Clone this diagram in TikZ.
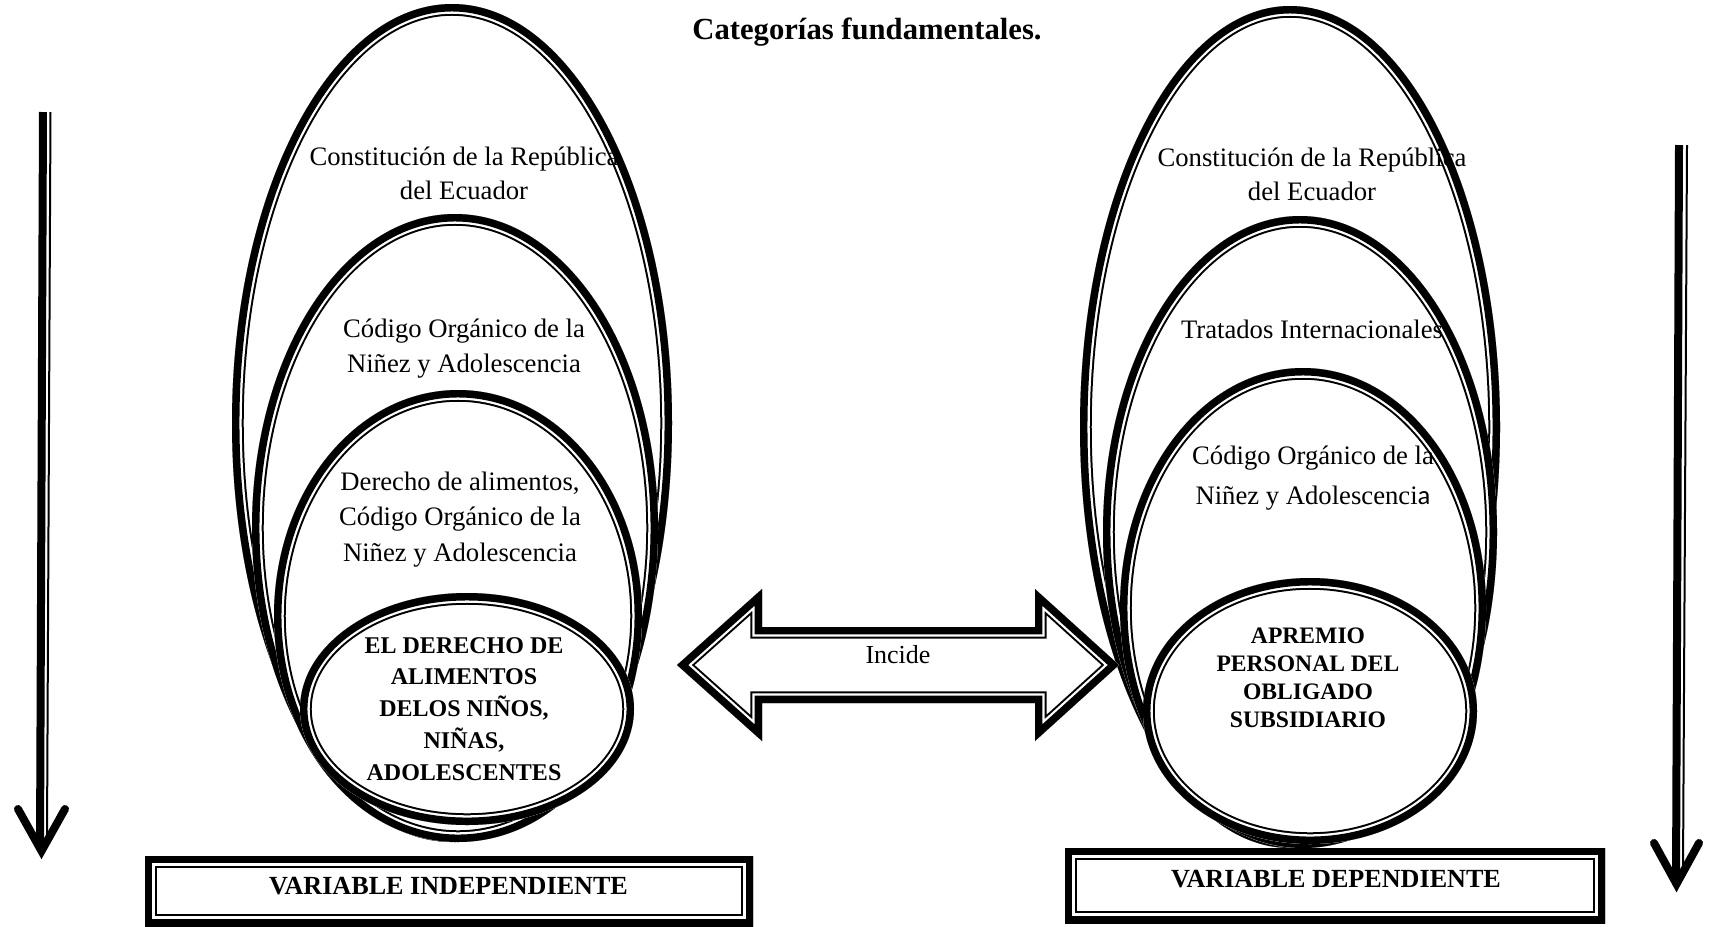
\documentclass[tikz,border=0pt]{standalone}
\usepackage{fontspec}
\setmainfont{Liberation Serif}
\newfontfamily\altfont{Carlito}
\newcommand{\ttshape}[1]{%
  \begin{scope}
    \clip #1;
    \fill[white] #1;
    \draw[thickpart] #1;
    \draw[gappart] #1;
    \draw[thinpart] #1;
  \end{scope}}
\tikzset{
  thickpart/.style={draw=black, line width=17.6pt, line join=miter},
  gappart/.style={draw=white, line width=14.6pt, line join=miter},
  thinpart/.style={draw=black, line width=11.2pt, line join=miter},
  sidebar/.style={line width=6pt},
  sidethin/.style={line width=1.5pt},
  sidehead/.style={line width=6pt, line cap=round, line join=miter},
  regtext/.style={align=center, anchor=base, inner sep=0pt},
  boldtext/.style={align=center, anchor=base, inner sep=0pt, font=\bfseries\fontsize{18}{23.8}\selectfont},
  boxtext/.style={anchor=base, inner sep=0pt, font=\bfseries\fontsize{19.6}{23}\selectfont},
}
\begin{document}
\begin{tikzpicture}[x=0.75pt, y=-0.75pt]
\useasboundingbox (0,0) rectangle (1710,926);

% left group of ellipses
\ttshape{(452,423) ellipse [x radius=220, y radius=419]}
\ttshape{(455,528) ellipse [x radius=203, y radius=314]}
\ttshape{(458,616) ellipse [x radius=184, y radius=226]}
\ttshape{(467,709) ellipse [x radius=167, y radius=116]}

% right group of ellipses
\ttshape{(1290,427) ellipse [x radius=210, y radius=421]}
\ttshape{(1300,532) ellipse [x radius=197, y radius=316]}
\ttshape{(1303,608) ellipse [x radius=183, y radius=240]}
\ttshape{(1310,711) ellipse [x radius=167, y radius=133]}

% double block arrow
\coordinate (aL)  at (677,665);
\coordinate (aL1) at (762,589);
\coordinate (aL2) at (762,627);
\coordinate (aR2) at (1035,627);
\coordinate (aR1) at (1035,589);
\coordinate (aR)  at (1119,665);
\coordinate (aR3) at (1035,741);
\coordinate (aR4) at (1035,703);
\coordinate (aL4) at (762,703);
\coordinate (aL3) at (762,741);
\ttshape{(aL) -- (aL1) -- (aL2) -- (aR2) -- (aR1) -- (aR) -- (aR3) -- (aR4) -- (aL4) -- (aL3) -- cycle}

% boxes
\ttshape{(145,856) rectangle (753,926)}
\ttshape{(1065,848) rectangle (1605,923)}

% side arrows
\coordinate (lTop)  at (43,112);
\coordinate (lBot)  at (40,850);
\coordinate (lTopT) at (50.5,112);
\coordinate (lBotT) at (47,838);
\coordinate (lArmA) at (18,809);
\coordinate (lTip)  at (41.5,851);
\coordinate (lArmB) at (65,809);
\draw[sidebar] (lTop) -- (lBot);
\draw[sidethin] (lTopT) -- (lBotT);
\draw[sidehead] (lArmA) -- (lTip) -- (lArmB);

\coordinate (rTop)  at (1679,145);
\coordinate (rBot)  at (1676,884);
\coordinate (rTopT) at (1687,145);
\coordinate (rBotT) at (1683,871);
\coordinate (rArmA) at (1654,843);
\coordinate (rTip)  at (1676.5,884);
\coordinate (rArmB) at (1699,843);
\draw[sidebar] (rTop) -- (rBot);
\draw[sidethin] (rTopT) -- (rBotT);
\draw[sidehead] (rArmA) -- (rTip) -- (rArmB);

% texts (anchor base = baseline of the last line)
\node[regtext, font=\bfseries\fontsize{23}{27}\selectfont] (title) at (867,39) {Categorías fundamentales.};

\node[regtext, font=\fontsize{20}{25.7}\selectfont] (l1) at (464,199.5) {Constitución de la República\\del Ecuador};
\node[regtext, font=\fontsize{20}{26.5}\selectfont] (l2) at (464,372.5) {Código Orgánico de la\\Niñez y Adolescencia};
\node[regtext, font=\fontsize{20}{26.6}\selectfont] (l3) at (460,561) {Derecho de alimentos,\\Código Orgánico de la\\Niñez y Adolescencia};
\node[boldtext] (l4) at (464,780) {EL DERECHO DE\\ALIMENTOS\\DELOS NIÑOS,\\NIÑAS,\\ADOLESCENTES};

\node[regtext, font=\fontsize{20}{25.3}\selectfont] (r1) at (1312,200.5) {Constitución de la República\\del Ecuador};
\node[regtext, font=\fontsize{20}{25}\selectfont] (r2) at (1312,338) {Tratados Internacionales};
\node[regtext, font=\fontsize{20}{30}\selectfont] (r3) at (1313,504) {Código Orgánico de la\\Niñez y Adolescenci{\altfont a}};
\node[boldtext, font=\bfseries\fontsize{17.7}{20.8}\selectfont] (r4) at (1308,727) {APREMIO\\PERSONAL DEL\\OBLIGADO\\SUBSIDIARIO};

\node[regtext, font=\fontsize{19.5}{23}\selectfont] (incide) at (898,663) {Incide};

\node[boxtext] (vi) at (448.5,894) {VARIABLE INDEPENDIENTE};
\node[boxtext] (vd) at (1336,887) {VARIABLE DEPENDIENTE};
\end{tikzpicture}
\end{document}
